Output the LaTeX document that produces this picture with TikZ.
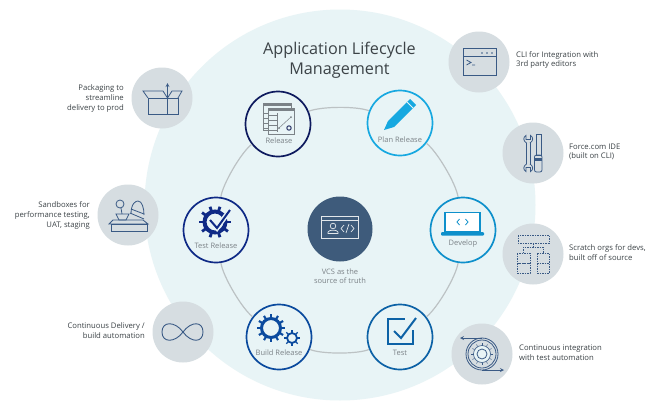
\documentclass[tikz,border=0pt]{standalone}
\usepackage{xcolor}
\usepackage{fontspec}
\setmainfont{Open Sans}
\usetikzlibrary{arrows}

\definecolor{discbg}{HTML}{E8F4F6}
\definecolor{greydisc}{HTML}{D6DDE1}
\definecolor{slateicon}{HTML}{3A5A85}
\definecolor{ringgrey}{HTML}{BCC2C4}
\definecolor{labelgrey}{HTML}{7B8287}
\definecolor{sidetext}{HTML}{3C4347}
\definecolor{navyA}{HTML}{0E1A5E}
\definecolor{navyB}{HTML}{0F2A86}
\definecolor{blueA}{HTML}{0B4A9E}
\definecolor{blueB}{HTML}{0D62A6}
\definecolor{blueC}{HTML}{0E90CB}
\definecolor{blueD}{HTML}{17A8E0}
\definecolor{vcsblue}{HTML}{3E5B7B}

% center, inner radius, outer radius, tooth step, colour, ring width
\newcommand{\gearicon}[6]{
    \begin{scope}[shift={#1}]
        \draw [#5, line width=#6, fill=discbg] (0,0) circle (#2);
        \foreach \a in {0,#4,...,359}
            \draw [#5, line width=#6*0.7] (\a:#2) -- (\a:#3);
    \end{scope}
}

\begin{document}
\begin{tikzpicture}[x=1pt, y=-1pt]
    % Styles
    \tikzstyle{stage} = [circle, minimum size=65pt, inner sep=0pt, line width=1.7pt, fill=discbg]
    \tikzstyle{feature} = [circle, minimum size=61pt, inner sep=0pt, fill=greydisc]
    \tikzstyle{stagetext} = [font=\fontsize{7.5}{9}\selectfont, text=labelgrey, inner sep=0pt]
    \tikzstyle{sideleft} = [font=\fontsize{7.7}{9.6}\selectfont, text=sidetext, inner sep=0pt, anchor=east, align=right]
    \tikzstyle{sideright} = [font=\fontsize{7.7}{9.6}\selectfont, text=sidetext, inner sep=0pt, anchor=west, align=left]
    \tikzstyle{ringline} = [ringgrey, line width=1.2pt, bend left=22, looseness=0.55]
    \tikzstyle{icon} = [slateicon, line width=0.8pt]
    \tikzstyle{arrow} = [->, >=stealth]

    \useasboundingbox (0,0) rectangle (654,410);
    \fill [white] (0,0) rectangle (654,410);

    % Background disc
    \node (disc) [circle, minimum size=391pt, inner sep=0pt, fill=discbg] at (340,205) {};

    % Title
    \node (title) [font=\fontsize{16.2}{20}\selectfont, text=sidetext, align=center] at (339.5,60.5) {Application Lifecycle\\Management};

    % Stages
    \node (release) [stage, draw=navyA] at (278,124) {};
    \node (plan) [stage, draw=blueD] at (400,123) {};
    \node (develop) [stage, draw=blueC] at (463,230) {};
    \node (test) [stage, draw=blueB] at (400,337) {};
    \node (build) [stage, draw=blueA] at (279,337) {};
    \node (testrelease) [stage, draw=navyB] at (216,230) {};
    \node (vcs) [circle, minimum size=65pt, inner sep=0pt, fill=vcsblue] at (340,229) {};

    \node (releasetext) [stagetext] at (279,141) {Release};
    \node (plantext) [stagetext] at (400,140) {Plan Release};
    \node (developtext) [stagetext] at (463,244) {Develop};
    \node (testtext) [stagetext] at (400,353) {Test};
    \node (buildtext) [stagetext] at (279,353) {Build Release};
    \node (testreleasetext) [stagetext] at (216,246) {Test Release};
    \node (vcstext) [stagetext, align=center, font=\fontsize{7.5}{9}\selectfont] at (340,276.5) {VCS as the\\source of truth};

    % Ring
    \draw [ringline] (release) to (plan);
    \draw [ringline] (plan) to (develop);
    \draw [ringline] (develop) to (test);
    \draw [ringline] (test) to (build);
    \draw [ringline] (build) to (testrelease);
    \draw [ringline] (testrelease) to (release);

    % Features
    \node (packaging) [feature] at (162,98) {};
    \node (sandbox) [feature] at (128,215) {};
    \node (delivery) [feature] at (183,332) {};
    \node (cli) [feature] at (479,62) {};
    \node (ide) [feature] at (533,153) {};
    \node (scratch) [feature] at (533,254) {};
    \node (integration) [feature] at (482,354) {};

    \node (packagingtext) [sideleft] at (124,98.5) {Packaging to\\streamline\\delivery to prod};
    \node (sandboxtext) [sideleft] at (90,215.5) {Sandboxes for\\performance testing,\\UAT, staging};
    \node (deliverytext) [sideleft] at (145,330.5) {Continuous Delivery /\\build automation};
    \node (clitext) [sideright] at (516,60) {CLI for Integration with\\3rd party editors};
    \node (idetext) [sideright] at (569,152) {Force.com IDE\\(built on CLI)};
    \node (scratchtext) [sideright] at (569,252.5) {Scratch orgs for devs,\\built off of source};
    \node (integrationtext) [sideright] at (519,352.5) {Continuous integration\\with test automation};

    % Release icon
    \draw [labelgrey, line width=0.7pt, fill=discbg] (263,103) rectangle (291,130);
    \draw [labelgrey, line width=0.7pt, fill=discbg] (268,108) rectangle (294,134);
    \draw [labelgrey, line width=1.2pt] (263,105) -- (291,105) (268,110) -- (294,110);
    \foreach \y in {115,120,125,130} {
        \draw [labelgrey, line width=0.5pt] (269,\y) -- (277,\y);
        \draw [labelgrey, line width=0.5pt] (263,\y-2) -- (268,\y-2);
    }
    \draw [labelgrey, line width=0.5pt] (277,113) -- (277,132);
    \draw [labelgrey, line width=0.5pt] (279,128) -- (291,117);
    \fill [labelgrey] (279,128) circle (1pt) (291,117) circle (1pt);
    \draw [navyA!70!labelgrey, line width=1pt] (289,128) circle (2.2pt);

    % Plan Release icon
    \fill [blueD] (384,130) -- (388,121) -- (410,99) -- (416,105) -- (394,127) -- cycle;
    \draw [discbg, line width=0.8pt] (407,102) -- (413,108);

    % Develop icon
    \draw [blueC, line width=1.4pt, fill=white] (445,212.5) rectangle (480,232);
    \fill [blueC, rounded corners=1pt] (441,232) rectangle (484,235.5);
    \draw [blueC, line width=0.8pt] (459.5,219) -- (457,222) -- (459.5,225) (465.5,219) -- (468,222) -- (465.5,225);

    % Test icon
    \draw [blueB, line width=1.2pt] (413,330) -- (413,344) -- (388,344) -- (388,319) -- (405,319);
    \draw [blueB, line width=2pt] (394,331) -- (401,338) -- (416,318);

    % Build Release icon
    \gearicon{(271,328)}{9.5pt}{14pt}{30}{blueA}{3pt}
    \gearicon{(292,338)}{5pt}{8pt}{45}{blueA}{1.8pt}

    % Test Release icon
    \gearicon{(215,222)}{10.5pt}{16pt}{36}{navyB}{4pt}
    \draw [discbg, line width=5pt] (210,220) -- (217,228) -- (230,210);
    \draw [navyB, line width=2pt] (210,220) -- (217,228) -- (230,210);

    % VCS icon
    \draw [white!85!vcsblue, line width=0.7pt] (321,216) rectangle (358,238);
    \draw [white!85!vcsblue, line width=0.7pt] (321,220) -- (358,220);
    \draw [white!85!vcsblue, line width=0.7pt] (333,226) circle (2.8pt);
    \draw [white!85!vcsblue, line width=0.7pt] (328,233.5) -- (328,232) .. controls (329,229.5) and (337,229.5) .. (338,232) -- (338,233.5) -- cycle;
    \draw [white!85!vcsblue, line width=0.7pt] (344,225) -- (341,228.5) -- (344,232) (346,233) -- (349,224) (351,225) -- (354,228.5) -- (351,232);

    % Packaging icon
    \draw [icon] (148,98) rectangle (178,114);
    \draw [icon] (167.5,98) -- (167.5,114);
    \draw [icon] (148,98) -- (143,91) -- (163,91) -- (167.5,98) -- (172,91) -- (182,91) -- (178,98);
    \draw [icon, arrow] (167.5,97) -- (167.5,83);

    % Sandbox icon
    \draw [icon] (111,224) rectangle (147,231);
    \draw [icon] (109,224) -- (113,220) -- (143,220) -- (148,224) -- cycle;
    \draw [icon] (120,204) circle (4pt);
    \draw [icon] (121,208) -- (122,214);
    \draw [icon] (116,214) -- (129,214) -- (126,220) -- (119,220) -- cycle;
    \draw [icon] (131,214) .. controls (131,203) and (136,201) .. (138,201) .. controls (142,201) and (144,208) .. (144,215);
    \draw [icon] (130,213) -- (144,219) (131,209) -- (144,214);

    % Delivery icon
    \draw [slateicon, line width=0.9pt] (162,332) .. controls (162,321) and (175,321) .. (183,332) .. controls (191,343) and (203,343) .. (203,332) .. controls (203,321) and (191,321) .. (183,332) .. controls (175,343) and (162,343) .. (162,332) -- cycle;

    % CLI icon
    \draw [icon] (463,48) rectangle (496,75);
    \draw [icon] (463,56) -- (496,56);
    \foreach \x in {482,487,492}
        \fill [slateicon] (\x,53) circle (0.8pt);
    \draw [icon] (466.5,60) -- (471,62.5) -- (466.5,65) (472,65) -- (475,65);

    % IDE icon
    \draw [icon] (526.5,143) -- (526.5,164) (530,143) -- (530,164);
    \draw [icon] (526.5,143) .. controls (523,141) and (523,137) .. (526,135.5) -- (526,139.5) -- (530.5,139.5) -- (530.5,135.5) .. controls (533.5,137) and (533.5,141) .. (530,143);
    \draw [icon] (526.5,164) .. controls (523,166) and (523,170) .. (526,171.5) -- (526,167.5) -- (530.5,167.5) -- (530.5,171.5) .. controls (533.5,170) and (533.5,166) .. (530,164);
    \draw [icon] (536,134) rectangle (541,155);
    \draw [icon, rounded corners=2pt] (534.5,155) rectangle (542,172);
    \fill [slateicon] (534.5,158) rectangle (542,161);

    % Scratch icon
    \draw [icon, dash pattern=on 1.5pt off 1pt] (518,235) rectangle (549,243);
    \draw [icon, dash pattern=on 1.5pt off 1pt] (517,253) rectangle (530,263);
    \draw [icon, dash pattern=on 1.5pt off 1pt] (517,263) rectangle (530,273);
    \draw [icon, dash pattern=on 1.5pt off 1pt] (537,253) rectangle (549,263);
    \draw [icon, dash pattern=on 1.5pt off 1pt] (537,263) rectangle (549,273);
    \draw [icon, dash pattern=on 1.5pt off 1pt] (533.5,243) -- (533.5,247) (523,253) -- (523,247) -- (543,247) -- (543,253);

    % Integration icon
    \draw [icon] (482,354) circle (16pt) (482,354) circle (14pt);
    \gearicon{(482,354)}{8.5pt}{11pt}{30}{slateicon}{0.6pt}
    \draw [icon] (482,354) circle (5pt);
    \draw [icon, arrow] (482,338) -- (460,338);
    \draw [icon, arrow] (482,370) -- (504,370);
\end{tikzpicture}
\end{document}
